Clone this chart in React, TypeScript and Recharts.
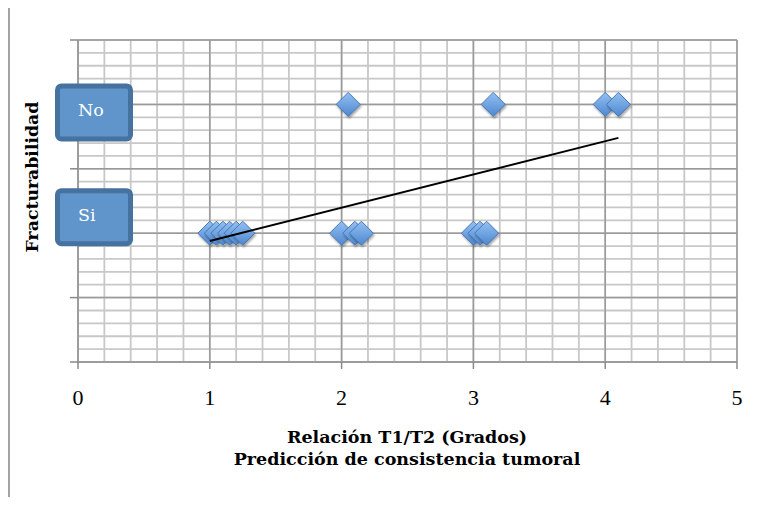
import { ScatterChart, Scatter, XAxis, YAxis, CartesianGrid } from 'recharts'

// Fracturabilidad vs relación T1/T2
const siX = [1.0, 1.05, 1.1, 1.15, 1.2, 1.25, 2.0, 2.1, 2.15, 3.0, 3.05, 3.1]
const noX = [2.05, 3.15, 4.0, 4.1]
const trendX = [1.0, 4.1]
const trendY = [0.94, 1.74]

const xTicks = [0, 1, 2, 3, 4, 5]
const yTicks = [0, 0.5, 1, 1.5, 2, 2.5]
const xMinor = Array.from({ length: 26 }, (_, i) => +(i * 0.2).toFixed(1))
const yMinor = Array.from({ length: 26 }, (_, i) => +(i * 0.1).toFixed(1))

const categoryValues = [1, 2]
const categoryNames = ['Si', 'No']

const siData = siX.map((x) => ({ x, y: 1 }))
const noData = noX.map((x) => ({ x, y: 2 }))
const trendData = trendX.map((x, i) => ({ x, y: trendY[i] }))

const FONT = '"DejaVu Serif", "Liberation Serif", serif'
const TICK_FONT = '"Liberation Serif", "DejaVu Serif", serif'

// the boxes are placed by hand in the original, not centred on the gridline
const boxTop: Record<string, number> = { No: -21, Si: -45 }

function CategoryTick(props: any) {
  const { y, payload } = props
  const idx = categoryValues.indexOf(payload.value)
  if (idx < 0) return <g />
  const name = categoryNames[idx]
  const top = y + boxTop[name]
  return (
    <g>
      <rect x={57.5} y={top + 2.5} width={73} height={53} rx={4} fill="#6095cc" stroke="#46729f" strokeWidth={5} />
      <text x={78} y={top + 33} fill="#fff" fontFamily={FONT} fontSize={17.5}>
        {name}
      </text>
    </g>
  )
}

function NumberTick(props: any) {
  const { x, payload } = props
  return (
    <text x={x} y={405} textAnchor="middle" fill="#000" fontFamily={TICK_FONT} fontSize={22}>
      {payload.value}
    </text>
  )
}

function Diamond(props: any) {
  const { cx, cy } = props
  const r = 12
  const d = `M${cx},${cy - r} L${cx + r},${cy} L${cx},${cy + r} L${cx - r},${cy} Z`
  return <path d={d} fill="url(#diamondFill)" stroke="#4677b4" strokeWidth={1} filter="url(#diamondShadow)" />
}

function XTitle() {
  return (
    <text x={407} textAnchor="middle" fontFamily={FONT} fontSize={17.5} fontWeight="bold" fill="#000">
      <tspan x={407} y={443}>Relación T1/T2 (Grados)</tspan>
      <tspan x={407} y={465}>Predicción de consistencia tumoral</tspan>
    </text>
  )
}

function YTitle() {
  return (
    <text
      x={32}
      y={177}
      transform="rotate(-90, 32, 177)"
      textAnchor="middle"
      dominantBaseline="central"
      fontFamily={FONT}
      fontSize={17.3}
      fontWeight="bold"
      fill="#000"
    >
      Fracturabilidad
    </text>
  )
}

export default function App() {
  return (
    <div style={{ position: 'relative', width: 765, height: 505, margin: -8, overflow: 'hidden', background: '#fff' }}>
      <div
        style={{
          position: 'absolute',
          left: 8,
          top: 5,
          width: 900,
          height: 700,
          border: '2px solid #a3a3a3',
        }}
      />
      <div style={{ position: 'absolute', left: 0, top: 0 }}>
        <ScatterChart width={765} height={505} margin={{ top: 40, right: 28, bottom: 0, left: 0 }}>
          <defs>
            <linearGradient id="diamondFill" x1="0" y1="0" x2="0" y2="1">
              <stop offset="0%" stopColor="#92c0f2" />
              <stop offset="100%" stopColor="#4f88cf" />
            </linearGradient>
            <filter id="diamondShadow" x="-30%" y="-30%" width="160%" height="160%">
              <feDropShadow dx="1" dy="2" stdDeviation="1" floodColor="#000" floodOpacity="0.35" />
            </filter>
          </defs>
          <CartesianGrid stroke="#c8c8c8" strokeWidth={1.8} horizontalValues={yMinor} verticalValues={xMinor} />
          <CartesianGrid stroke="#9a9a9a" strokeWidth={1.5} />
          <XAxis
            type="number"
            dataKey="x"
            domain={[0, 5]}
            ticks={xTicks}
            interval={0}
            height={143}
            tickSize={7}
            axisLine={{ stroke: '#9a9a9a', strokeWidth: 1.5 }}
            tickLine={{ stroke: '#8a8a8a', strokeWidth: 1.5 }}
            tick={<NumberTick />}
            label={<XTitle />}
          />
          <YAxis
            type="number"
            dataKey="y"
            domain={[0, 2.5]}
            ticks={yTicks}
            interval={0}
            width={78}
            tickSize={8}
            axisLine={{ stroke: '#9a9a9a', strokeWidth: 1.5 }}
            tickLine={{ stroke: '#8a8a8a', strokeWidth: 1.5 }}
            tick={<CategoryTick />}
            label={<YTitle />}
          />
          <Scatter data={siData} shape={<Diamond />} isAnimationActive={false} />
          <Scatter data={noData} shape={<Diamond />} isAnimationActive={false} />
          <Scatter
            data={trendData}
            line={{ stroke: '#000', strokeWidth: 2 }}
            shape={() => <g />}
            isAnimationActive={false}
          />
        </ScatterChart>
      </div>
    </div>
  )
}
